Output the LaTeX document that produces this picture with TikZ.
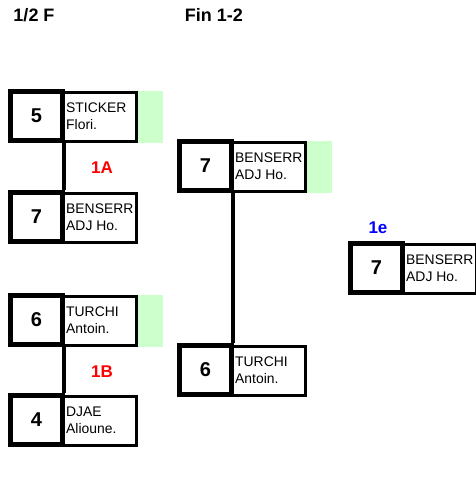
\documentclass[tikz,border=0pt]{standalone}
\usepackage{fontspec}
\setmainfont{Liberation Sans}
\definecolor{wingreen}{HTML}{CCFFCC}
\definecolor{roundred}{HTML}{FF0000}
\definecolor{roundblue}{HTML}{0000FF}
\tikzset{
  scorebox/.style={draw, line width=5pt, minimum width=52pt, minimum height=49pt, inner sep=0pt,
    font=\fontsize{20}{23}\selectfont\bfseries},
  namebox/.style={draw, line width=3pt, minimum width=73pt, minimum height=49pt, inner sep=0pt},
  nametext/.style={anchor=base west, inner sep=0pt, font=\fontsize{13.9}{16}\selectfont},
  roundlabel/.style={inner sep=0pt, font=\fontsize{17}{20}\selectfont\bfseries},
  header/.style={inner sep=0pt, font=\fontsize{18}{21}\selectfont\bfseries},
  conn/.style={line width=4pt}
}
\newcommand\bracketentry[7]{%
  \begin{scope}[shift={(#2,#3)}]
    \ifnum#7=1 \fill[wingreen] (138,2) rectangle (163,54);\fi
    \node[namebox] (#1n) at (100,28) {};
    \node[scorebox] (#1s) at (36.5,27) {#4};
    \node[nametext] (#1a) at (66,23) {#5};
    \node[nametext] (#1b) at (66,40) {#6};
  \end{scope}}
\begin{document}
\begin{tikzpicture}[x=1pt,y=-1pt]
\useasboundingbox (0,0) rectangle (476,499);
\node[header] (h1) at (34,15) {1/2 F};
\node[header] (h2) at (214,15) {Fin 1-2};
\bracketentry{aa}{0}{89}{5}{STICKER}{Flori.}{1}
\bracketentry{ab}{0}{190}{7}{BENSERR}{ADJ Ho.}{0}
\bracketentry{ba}{0}{293}{6}{TURCHI}{Antoin.}{1}
\bracketentry{bb}{0}{393}{4}{DJAE}{Alioune.}{0}
\bracketentry{fa}{169}{139}{7}{BENSERR}{ADJ Ho.}{1}
\bracketentry{fb}{169}{343}{6}{TURCHI}{Antoin.}{0}
\bracketentry{w}{340}{241}{7}{BENSERR}{ADJ Ho.}{0}
\draw[conn] ([xshift=-1pt]aas.south east) -- ([xshift=-1pt]abs.north east);
\draw[conn] ([xshift=-1pt]bas.south east) -- ([xshift=-1pt]bbs.north east);
\draw[conn] ([xshift=-1pt]fas.south east) -- ([xshift=-1pt]fbs.north east);
\node[roundlabel, text=roundred] (l1a) at (102,168) {1A};
\node[roundlabel, text=roundred] (l1b) at (102,372) {1B};
\node[roundlabel, text=roundblue] (l1e) at (378,228) {1e};
\end{tikzpicture}
\end{document}
